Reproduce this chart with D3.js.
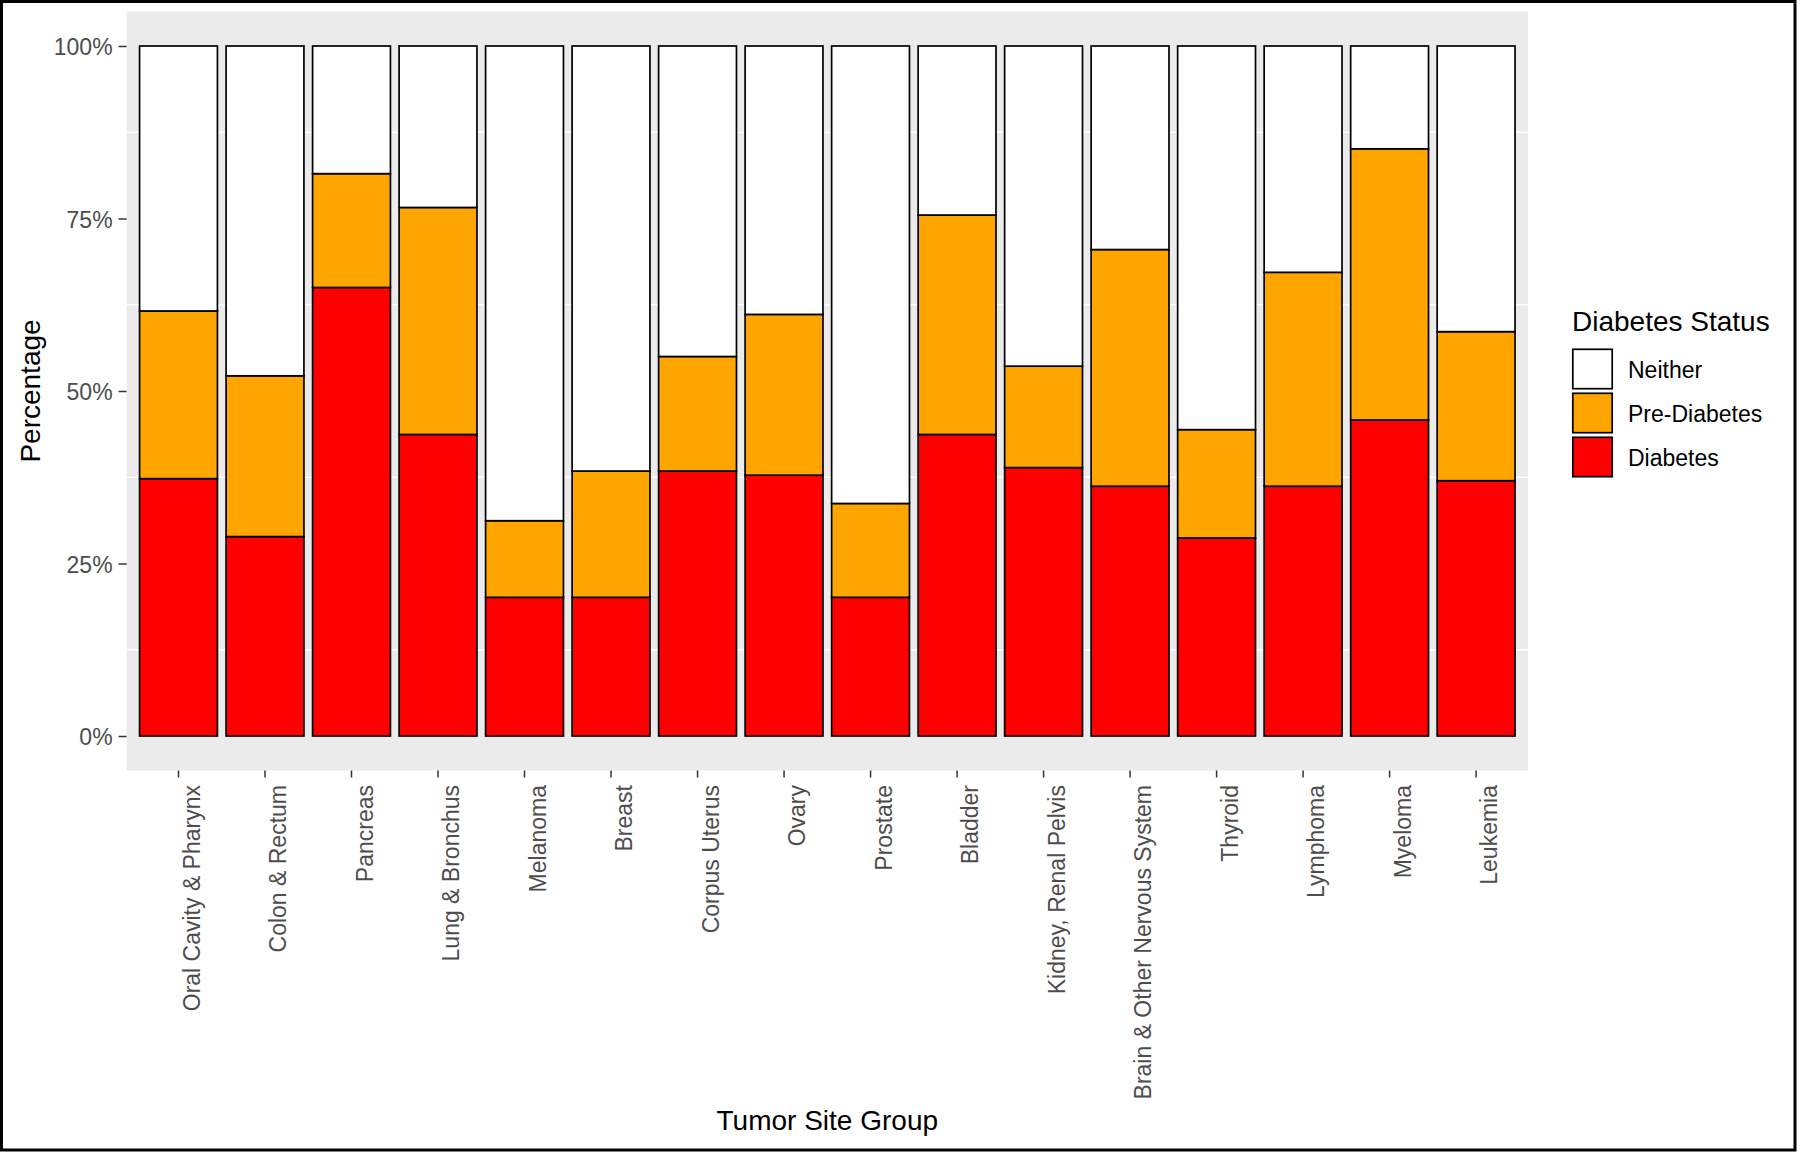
<!DOCTYPE html>
<html>
<head>
<meta charset="utf-8">
<script src="https://cdn.jsdelivr.net/npm/d3@7"></script>
<style>
  html, body { margin: 0; padding: 0; background: #ffffff; }
  svg { display: block; font-family: "Liberation Sans", Arial, sans-serif; }
</style>
</head>
<body>
<svg id="chart" width="1800" height="1153"></svg>
<script>
const categories = ["Oral Cavity & Pharynx", "Colon & Rectum", "Pancreas", "Lung & Bronchus", "Melanoma", "Breast", "Corpus Uterus", "Ovary", "Prostate", "Bladder", "Kidney, Renal Pelvis", "Brain & Other Nervous System", "Thyroid", "Lymphoma", "Myeloma", "Leukemia"];
const diabetes    = [37.3, 28.9, 65.0, 43.7, 20.1, 20.1, 38.4, 37.8, 20.1, 43.7, 38.9, 36.2, 28.7, 36.2, 45.8, 37.0];
const preDiabetes = [24.3, 23.3, 16.5, 32.9, 11.1, 18.3, 16.6, 23.3, 13.6, 31.8, 14.7, 34.3, 15.7, 31.0, 39.3, 21.6];
const neither     = [38.4, 47.8, 18.5, 23.4, 68.8, 61.6, 45.0, 38.9, 66.3, 24.5, 46.4, 29.5, 55.6, 32.8, 14.9, 41.4];
const statusKeys  = ["Diabetes", "Pre-Diabetes", "Neither"];
const legendOrder = ["Neither", "Pre-Diabetes", "Diabetes"];
const yTicks      = [0, 0.25, 0.5, 0.75, 1];
const yMinorTicks = [0.125, 0.375, 0.625, 0.875];
const colors = { "Neither": "#FFFFFF", "Pre-Diabetes": "#FFA500", "Diabetes": "#FF0000" };

const rows = categories.map((c, i) => ({
  category: c, "Diabetes": diabetes[i], "Pre-Diabetes": preDiabetes[i], "Neither": neither[i]
}));

const svg = d3.select("#chart");
const W = 1800, H = 1153;
const panel = { left: 126.6, right: 1528, top: 11.5, bottom: 770.5 };

svg.append("rect").attr("x", 0).attr("y", 0).attr("width", W).attr("height", H).attr("fill", "#fff");

const x = d3.scaleBand().domain(categories).range([panel.left, panel.right])
  .paddingInner(0.1).paddingOuter(0.15);
const y = d3.scaleLinear().domain([-0.05, 1.05]).range([panel.bottom, panel.top]);

// panel background
svg.append("rect").attr("x", panel.left).attr("y", panel.top)
  .attr("width", panel.right - panel.left).attr("height", panel.bottom - panel.top)
  .attr("fill", "#EBEBEB");

// minor gridlines
svg.append("g").selectAll("line").data(yMinorTicks).join("line")
  .attr("x1", panel.left).attr("x2", panel.right)
  .attr("y1", d => y(d)).attr("y2", d => y(d))
  .attr("stroke", "#ffffff").attr("stroke-width", 1.3);

// stacked bars
const stack = d3.stack().keys(statusKeys).offset(d3.stackOffsetExpand);
const series = stack(rows);
svg.append("g").selectAll("g").data(series).join("g")
  .attr("fill", d => colors[d.key])
  .selectAll("rect").data(d => d).join("rect")
  .attr("x", d => x(d.data.category))
  .attr("width", x.bandwidth())
  .attr("y", d => y(d[1]))
  .attr("height", d => y(d[0]) - y(d[1]))
  .attr("stroke", "#000").attr("stroke-width", 1.7);

// y axis
const yAxis = svg.append("g").attr("transform", `translate(${panel.left},0)`)
  .call(d3.axisLeft(y).tickValues(yTicks).tickFormat(d3.format(".0%")).tickSize(8).tickPadding(6));
yAxis.select(".domain").remove();
yAxis.selectAll(".tick line").attr("stroke", "#333333").attr("stroke-width", 1.5);
yAxis.selectAll(".tick text").attr("fill", "#4D4D4D").attr("font-size", 23)
  .attr("dy", null).attr("y", 8.5);

// x axis
const xAxis = svg.append("g").attr("transform", `translate(0,${panel.bottom})`)
  .call(d3.axisBottom(x).tickSize(7).tickSizeOuter(0));
xAxis.select(".domain").remove();
xAxis.selectAll(".tick line").attr("stroke", "#333333").attr("stroke-width", 1.5);
xAxis.selectAll(".tick text").attr("fill", "#4D4D4D").attr("font-size", 23)
  .attr("dy", null)
  .attr("text-anchor", "end")
  .attr("transform", "translate(0,14.5) rotate(-90)")
  .attr("x", 0).attr("y", 21);

// axis titles
svg.append("text").attr("x", (panel.left + panel.right) / 2).attr("y", 1130)
  .attr("text-anchor", "middle").attr("font-size", 28).attr("fill", "#000")
  .text("Tumor Site Group");
svg.append("text").attr("transform", `translate(40,${(panel.top + panel.bottom) / 2}) rotate(-90)`)
  .attr("text-anchor", "middle").attr("font-size", 28).attr("fill", "#000")
  .text("Percentage");

// legend
const lg = svg.append("g").attr("transform", "translate(1572,0)");
lg.append("text").attr("x", 0).attr("y", 331).attr("font-size", 28).attr("fill", "#000")
  .text("Diabetes Status");
const keyTop = 348.5, keySize = 41, keyStep = 44;
const items = lg.selectAll("g.item").data(legendOrder).join("g").attr("class", "item")
  .attr("transform", (d, i) => `translate(0,${keyTop + i * keyStep})`);
items.append("rect").attr("x", 0.8).attr("y", 0.8).attr("width", keySize - 1.6).attr("height", keySize - 1.6)
  .attr("fill", d => colors[d]).attr("stroke", "#000").attr("stroke-width", 1.7);
items.append("text").attr("x", 56).attr("y", keySize / 2 + 8.5)
  .attr("font-size", 23).attr("fill", "#000").text(d => d);

// outer border
svg.append("rect").attr("x", 1.5).attr("y", 1.5).attr("width", 1793.5).attr("height", 1148.5)
  .attr("fill", "none").attr("stroke", "#000").attr("stroke-width", 3);
</script>
</body>
</html>
